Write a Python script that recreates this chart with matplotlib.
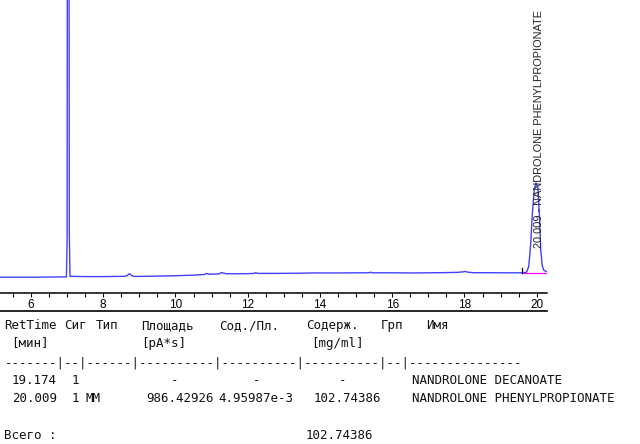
import matplotlib
matplotlib.use("Agg")
import matplotlib.pyplot as plt
from matplotlib.lines import Line2D

# chromatogram trace (time in min, signal in arbitrary pA units)
t = [5.14, 5.60, 6.00, 6.50, 6.90, 6.98, 7.00, 7.015, 7.045, 7.06, 7.08,
     7.50, 8.00, 8.60, 8.68, 8.72, 8.78, 8.85, 9.20, 9.60, 10.00, 10.50,
     10.80, 10.86, 10.92, 11.20, 11.28, 11.32, 11.40, 11.60, 12.00, 12.18,
     12.22, 12.28, 12.80, 13.40, 13.80, 14.50, 15.00, 15.35, 15.40, 15.45,
     16.00, 16.50, 17.00, 17.40, 17.80, 17.95, 18.02, 18.10, 18.30, 18.60,
     19.00, 19.60, 19.72, 19.78, 19.83, 19.88, 19.93, 19.98, 20.03, 20.07,
     20.11, 20.15, 20.19, 20.23, 20.285]
sig = [5.3, 5.3, 5.3, 5.35, 5.4, 5.4, 18.0, 250, 250, 21.0, 5.6,
       5.5, 5.5, 5.6, 6.0, 6.5, 5.9, 5.55, 5.6, 5.7, 5.8, 6.0,
       6.2, 6.6, 6.3, 6.4, 6.9, 6.7, 6.5, 6.45, 6.5, 6.6,
       6.85, 6.6, 6.6, 6.65, 6.75, 6.75, 6.8, 6.8, 7.0, 6.8,
       6.8, 6.75, 6.8, 6.85, 6.95, 7.1, 7.25, 7.0, 6.8, 6.85,
       6.8, 6.8, 7.0, 9.0, 16.0, 27.0, 35.0, 37.5, 36.0, 28.0,
       15.0, 9.5, 7.8, 7.4, 7.3]

peak_label = "20.009 - NANDROLONE PHENYLPROPIONATE"
peak_rt = 20.03
base_start, base_end, base_level = 19.60, 20.285, 6.8

# report table
headers1 = ["RetTime", "Сиг", "Тип", "Площадь", "Сод./Пл.", "Содерж.", "Грп", "Имя"]
headers2 = ["[мин]", "[pA*s]", "[mg/ml]"]
dash_row = "-------|--|------|----------|----------|----------|--|---------------"
ret_times = ["19.174", "20.009"]
signals = ["1", "1"]
types = ["", "MM"]
areas = ["-", "986.42926"]
amt_area = ["-", "4.95987e-3"]
amounts = ["-", "102.74386"]
names = ["NANDROLONE DECANOATE", "NANDROLONE PHENYLPROPIONATE"]
total_label = "Всего :"
total_amount = "102.74386"

W, H = 640, 444
fig = plt.figure(figsize=(W / 100, H / 100), dpi=100)

def fx(px):
    return px / W

def fy(py):
    return 1 - py / H

ax_bottom = 292.7
ax = fig.add_axes([0, fy(ax_bottom), fx(547), ax_bottom / H])
ax.plot(t, sig, color="#4040ff", lw=1.0)
ax.plot([base_start, base_end], [base_level, base_level], color="#ff00ff", lw=0.9)
ax.plot([base_start, base_start], [base_level - 0.2, base_level + 1.7], color="black", lw=0.9)
ax.text(peak_rt + 0.02, 15.2, peak_label, rotation=90, ha="center", va="bottom",
        fontsize=7.9, family="Liberation Sans", color="#222222")

ax.set_xlim(5.142, 20.285)
ax.set_ylim(0, 100)
for s in ["left", "right", "top"]:
    ax.spines[s].set_visible(False)
ax.spines["bottom"].set_linewidth(1.1)
ax.set_yticks([])
ax.set_xticks(range(6, 21, 2))
ax.set_xticks([x / 2 for x in range(11, 41)], minor=True)
ax.tick_params(axis="x", which="both", direction="out", length=3.0, width=0.8,
               labelsize=8.5, pad=1.8)
for lab in ax.get_xticklabels():
    lab.set_family("Liberation Sans")

fig.add_artist(Line2D([0, fx(547)], [fy(310.8), fy(310.8)], color="black", lw=1.2))

mono = dict(family="DejaVu Sans Mono", fontsize=9, color="#111111", va="baseline")

for txt, px in zip(headers1, [4, 64, 96, 141, 219, 306, 381, 426]):
    fig.text(fx(px), fy(329.3), txt, **mono)
for txt, px in zip(headers2, [11, 141, 311]):
    fig.text(fx(px), fy(346.5), txt, **mono)
fig.text(fx(4.6), fy(366.2), dash_row, **mono)

row_y = [384.0, 402.3]
for i in range(len(ret_times)):
    y = fy(row_y[i])
    fig.text(fx(12), y, ret_times[i], **mono)
    fig.text(fx(72), y, signals[i], **mono)
    fig.text(fx(85), y, types[i], **mono)
    for val, left, mid in [(areas[i], 146, 175), (amt_area[i], 218, 257), (amounts[i], 314, 343)]:
        if val == "-":
            fig.text(fx(mid), y, val, ha="center", **mono)
        else:
            fig.text(fx(left), y, val, **mono)
    fig.text(fx(412), y, names[i], **mono)

fig.text(fx(4), fy(439.3), total_label, **mono)
fig.text(fx(306), fy(439.3), total_amount, **mono)

fig.savefig("out.png", dpi=100)
